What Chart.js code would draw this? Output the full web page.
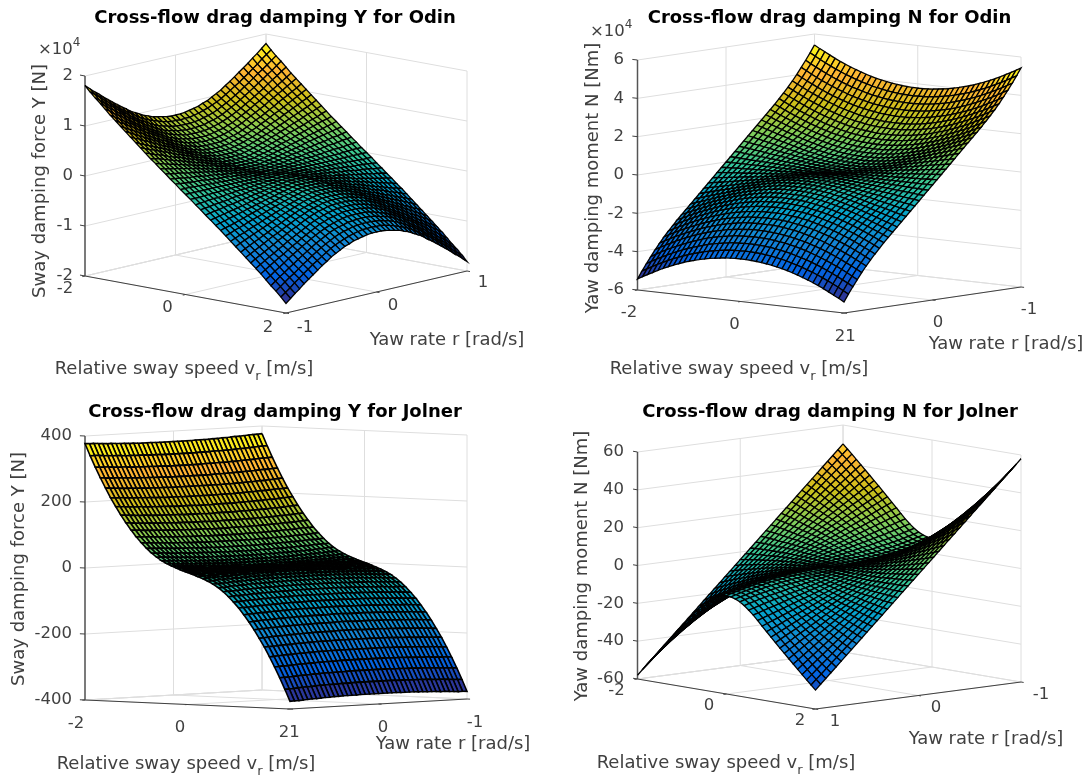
<!DOCTYPE html>
<html><head><meta charset="utf-8">
<style>html,body{margin:0;padding:0;background:#fff}canvas{position:absolute}</style>
<script src="https://cdn.jsdelivr.net/npm/chart.js@4/dist/chart.umd.js"></script>
</head><body>
<canvas id="c0" style="left:0;top:0"></canvas>
<canvas id="c1" style="left:545px;top:0"></canvas>
<canvas id="c2" style="left:0;top:390px"></canvas>
<canvas id="c3" style="left:545px;top:390px"></canvas>
<script>
const vGrid=[-2,-1.9,-1.8,-1.7,-1.6,-1.5,-1.4,-1.3,-1.2,-1.1,-1,-.9,-.8,-.7,-.6,-.5,-.4,-.3,-.2,-.1,0,.1,.2,.3,.4,.5,.6,.7,.8,.9,1,1.1,1.2,1.3,1.4,1.5,1.6,1.7,1.8,1.9,2];
const rGrid=[-1,-.95,-.9,-.85,-.8,-.75,-.7,-.65,-.6,-.55,-.5,-.45,-.4,-.35,-.3,-.25,-.2,-.15,-.1,-.05,0,.05,.1,.15,.2,.25,.3,.35,.4,.45,.5,.55,.6,.65,.7,.75,.8,.85,.9,.95,1];
// Magnitudes read for |r| = 0..1 (rows) and |v| = 0..2 (columns); the surfaces are antisymmetric about the centre.
const odinY=[ // x100 N
[0,0,1,2,3,5,7,10,13,16,20,24,29,34,39,45,51,58,65,72,80],
[0,0,1,2,4,5,8,10,13,17,20,25,29,34,40,45,52,58,65,73,80],
[0,1,2,3,4,6,8,11,14,17,21,25,30,35,40,46,52,59,66,73,81],
[0,1,3,4,6,8,10,12,15,19,23,27,31,36,42,48,54,60,67,75,83],
[0,2,3,5,7,9,12,15,18,21,25,29,34,39,44,50,56,63,70,77,85],
[0,2,4,6,9,11,14,17,20,24,27,32,36,41,47,52,59,65,72,80,87],
[0,3,5,8,10,13,16,19,23,27,31,35,39,44,50,56,62,68,75,83,91],
[0,3,6,9,12,15,19,22,26,30,34,38,43,48,54,59,66,72,79,87,94],
[0,3,7,10,14,17,21,25,29,33,38,42,47,52,58,64,70,77,84,91,99],
[0,4,8,11,15,19,23,28,32,37,41,46,51,57,63,69,75,82,89,96,104],
[0,4,8,13,17,21,26,30,35,40,45,50,56,62,68,74,80,87,94,102,109],
[0,5,9,14,19,23,28,33,38,44,49,55,60,66,73,79,86,93,100,108,116],
[0,5,10,15,20,26,31,36,42,47,53,59,65,71,78,85,91,99,106,114,122],
[0,5,11,16,22,28,33,39,45,51,57,63,70,76,83,90,97,105,113,120,129],
[0,6,12,18,24,30,36,42,48,55,61,68,74,81,89,96,103,111,119,127,136],
[0,6,13,19,25,32,38,45,51,58,65,72,79,87,94,102,109,118,126,134,143],
[0,7,13,20,27,34,41,48,55,62,69,77,84,92,100,107,116,124,133,141,150],
[0,7,14,21,29,36,43,51,58,66,73,81,89,97,105,113,122,131,139,148,158],
[0,8,15,23,30,38,46,54,61,69,77,86,94,102,111,119,128,137,146,156,165],
[0,8,16,24,32,40,48,56,65,73,81,90,99,107,116,125,135,144,153,163,173],
[0,8,17,25,34,42,51,59,68,77,86,95,104,113,122,131,141,151,160,170,181]];
const odinN=[ // x100 Nm
[0,0,0,0,0,0,0,0,0,0,0,0,0,0,0,0,0,0,0,0,0],
[1,1,2,4,5,6,7,8,10,11,12,13,14,16,17,18,19,20,22,23,24],
[4,4,5,7,10,12,14,17,19,22,24,26,29,31,34,36,38,41,43,46,48],
[9,9,10,12,15,18,22,25,29,32,36,40,43,47,50,54,58,61,65,68,72],
[15,16,17,19,22,25,29,34,38,43,48,53,58,62,67,72,77,82,86,91,96],
[24,24,25,27,30,34,38,43,48,54,60,66,72,78,84,90,96,102,108,114,120],
[34,34,36,38,41,44,49,54,60,66,72,79,86,94,101,108,115,122,130,137,144],
[46,47,48,50,53,57,61,67,72,79,86,93,101,109,118,126,134,143,151,160,168],
[60,61,62,64,67,71,76,81,87,94,101,109,117,126,135,144,154,163,173,182,192],
[77,77,78,80,83,87,92,97,103,110,117,125,134,143,153,163,173,184,194,205,216],
[95,95,96,98,101,105,110,115,121,128,136,144,153,162,172,183,194,205,216,228,240],
[114,115,116,118,121,125,130,135,141,148,156,164,173,183,193,204,215,227,239,252,264],
[136,137,138,140,143,147,151,157,163,170,178,186,195,205,216,227,238,251,263,276,290],
[160,160,161,164,167,170,175,180,187,194,202,210,219,229,240,251,263,276,289,302,316],
[185,186,187,189,192,196,201,206,212,219,227,236,245,255,266,277,289,302,315,329,343],
[213,213,214,216,219,223,228,233,240,247,255,263,273,283,294,305,318,330,344,358,372],
[242,242,244,246,249,253,257,263,269,276,284,293,302,312,323,335,347,361,374,388,403],
[273,274,275,277,280,284,288,294,300,307,315,324,334,344,355,367,379,392,406,421,436],
[306,307,308,310,313,317,322,327,333,341,349,357,367,377,388,400,413,426,440,454,470],
[341,342,343,345,348,352,357,362,368,376,384,392,402,412,423,435,448,461,475,490,505],
[378,378,380,382,385,389,393,399,405,412,420,429,439,449,460,472,485,499,513,527,543]];
const jolnerY=[ // N
[0,1,4,8,15,23,33,45,59,75,92,111,132,155,180,207,236,266,298,332,368],
[0,1,4,8,15,23,33,45,59,75,92,111,132,155,180,207,236,266,298,332,368],
[0,1,4,8,15,23,33,45,59,75,92,111,133,156,180,207,236,266,298,332,368],
[0,1,4,8,15,23,33,45,59,75,92,112,133,156,181,207,236,266,298,332,368],
[0,1,4,9,15,23,33,45,59,75,92,112,133,156,181,207,236,266,298,332,368],
[0,1,4,9,15,24,34,46,59,75,93,112,133,156,181,208,236,266,299,333,369],
[0,2,5,9,16,24,34,46,60,75,93,112,133,156,181,208,236,267,299,333,369],
[0,2,5,9,16,24,34,46,60,76,93,112,134,157,181,208,237,267,299,333,369],
[0,2,5,10,16,24,35,47,60,76,93,113,134,157,182,208,237,267,300,334,369],
[0,2,6,10,17,25,35,47,61,76,94,113,134,157,182,209,237,268,300,334,370],
[0,3,6,11,17,25,35,47,61,77,94,114,135,158,183,209,238,268,300,334,370],
[0,3,6,11,18,26,36,48,62,77,95,114,135,158,183,210,238,269,301,335,371],
[0,3,7,12,18,26,36,48,62,78,95,115,136,159,184,210,239,269,301,335,371],
[0,3,7,12,19,27,37,49,63,78,96,115,136,159,184,211,239,270,302,336,372],
[0,4,8,13,19,28,38,50,63,79,97,116,137,160,185,212,240,270,303,337,373],
[0,4,8,13,20,28,38,50,64,80,97,117,138,161,186,212,241,271,303,337,373],
[0,4,9,14,21,29,39,51,65,80,98,117,138,161,186,213,241,272,304,338,374],
[0,4,9,15,21,30,40,52,66,81,99,118,139,162,187,214,242,273,305,339,375],
[0,5,10,15,22,31,41,53,66,82,100,119,140,163,188,215,243,273,306,340,376],
[0,5,10,16,23,31,42,53,67,83,100,120,141,164,189,215,244,274,306,341,376],
[0,5,11,17,24,32,42,54,68,84,101,121,142,165,190,216,245,275,307,341,377]];
const jolnerN=[ // Nm
[0,0,0,0,0,0,0,0,0,0,0,0,0,0,0,0,0,0,0,0,0],
[0,.1,.3,.4,.5,.7,.8,.9,1.1,1.2,1.4,1.5,1.6,1.8,1.9,2,2.2,2.3,2.4,2.6,2.7],
[.1,.3,.5,.8,1.1,1.4,1.6,1.9,2.2,2.4,2.7,3,3.2,3.5,3.8,4.1,4.3,4.6,4.9,5.1,5.4],
[.2,.4,.8,1.2,1.6,2,2.4,2.8,3.2,3.6,4.1,4.5,4.9,5.3,5.7,6.1,6.5,6.9,7.3,7.7,8.1],
[.3,.6,1.1,1.6,2.2,2.7,3.2,3.8,4.3,4.9,5.4,5.9,6.5,7,7.6,8.1,8.6,9.2,9.7,10.3,10.8],
[.5,.8,1.4,2,2.7,3.4,4.1,4.7,5.4,6.1,6.8,7.4,8.1,8.8,9.5,10.1,10.8,11.5,12.2,12.8,13.5],
[.7,1,1.6,2.4,3.2,4,4.9,5.7,6.5,7.3,8.1,8.9,9.7,10.5,11.3,12.2,13,13.8,14.6,15.4,16.2],
[1,1.2,1.9,2.8,3.8,4.7,5.7,6.6,7.6,8.5,9.5,10.4,11.3,12.3,13.2,14.2,15.1,16.1,17,18,18.9],
[1.3,1.5,2.2,3.2,4.3,5.4,6.5,7.6,8.6,9.7,10.8,11.9,13,14,15.1,16.2,17.3,18.4,19.4,20.5,21.6],
[1.6,1.9,2.6,3.7,4.9,6.1,7.3,8.5,9.7,10.9,12.2,13.4,14.6,15.8,17,18.2,19.4,20.7,21.9,23.1,24.3],
[2,2.3,3,4.1,5.4,6.8,8.1,9.5,10.8,12.2,13.5,14.9,16.2,17.6,18.9,20.3,21.6,23,24.3,25.7,27],
[2.4,2.7,3.4,4.5,5.9,7.4,8.9,10.4,11.9,13.4,14.9,16.3,17.8,19.3,20.8,22.3,23.8,25.2,26.7,28.2,29.7],
[2.9,3.1,3.9,5,6.5,8.1,9.7,11.3,13,14.6,16.2,17.8,19.4,21.1,22.7,24.3,25.9,27.5,29.2,30.8,32.4],
[3.4,3.6,4.4,5.6,7.1,8.8,10.5,12.3,14,15.8,17.6,19.3,21.1,22.8,24.6,26.3,28.1,29.8,31.6,33.3,35.1],
[3.9,4.2,4.9,6.1,7.7,9.5,11.3,13.2,15.1,17,18.9,20.8,22.7,24.6,26.5,28.4,30.2,32.1,34,35.9,37.8],
[4.5,4.8,5.5,6.7,8.3,10.1,12.2,14.2,16.2,18.2,20.3,22.3,24.3,26.3,28.4,30.4,32.4,34.4,36.5,38.5,40.5],
[5.1,5.4,6.1,7.3,9,10.9,13,15.1,17.3,19.4,21.6,23.8,25.9,28.1,30.2,32.4,34.6,36.7,38.9,41,43.2],
[5.8,6,6.8,8,9.6,11.6,13.8,16.1,18.4,20.7,23,25.2,27.5,29.8,32.1,34.4,36.7,39,41.3,43.6,45.9],
[6.5,6.7,7.5,8.7,10.4,12.4,14.6,17,19.4,21.9,24.3,26.7,29.2,31.6,34,36.5,38.9,41.3,43.7,46.2,48.6],
[7.2,7.5,8.2,9.4,11.1,13.2,15.5,17.9,20.5,23.1,25.7,28.2,30.8,33.3,35.9,38.5,41,43.6,46.2,48.7,51.3],
[8,8.3,9,10.2,11.9,14,16.3,18.9,21.6,24.3,27,29.7,32.4,35.1,37.8,40.5,43.2,45.9,48.6,51.3,54]];
const jolnerNOffset=[0,0,0,.1,.2,.3,.4,.5,.6,.8,1,1.2,1.4,1.7,2,2.3,2.6,2.9,3.2,3.6,4]; // Nm by |v|

const vTicks=[-2,0,2], rTicks=[-1,0,1];
const odinYTicks=[-2,-1,0,1,2], odinNTicks=[-6,-4,-2,0,2,4,6];
const jolnerYTicks=[-400,-200,0,200,400], jolnerNTicks=[-60,-40,-20,0,20,40,60];

const parula=[[.2081,.1663,.5292],[.0117,.3875,.882],[.078,.52,.8286],[.0232,.6407,.7925],[.2161,.7843,.5923],[.5044,.7993,.348],[.8,.7482,.1],[.9932,.7,.2],[.9769,.9839,.0805]];
function colour(t){t=Math.max(0,Math.min(1,t))*(parula.length-1);const k=Math.min(parula.length-2,Math.floor(t)),f=t-k;
 const c=parula[k].map((a,n)=>Math.round(255*(a+(parula[k+1][n]-a)*f)));return `rgb(${c[0]},${c[1]},${c[2]})`;}

const panels=[
{title:'Cross-flow drag damping Y for Odin',titleXY:[275,18],org:[0,0],size:[545,390],table:odinY,unit:.01,signBy:'v',zTicks:odinYTicks,edge:1.3,
 L:[85,276],F:[286,313],R:[467,271],H:200,rFront:-1,rRight:1,zLab:73,
 exp:[38,50],yLab:['Sway damping force Y [N]',40,181],
 vLab:[[65,289],[167.5,308],[268,328]],rLab:[[305,328],[393,306],[483,283]],yaw:[447,340],rel:[184,369]},
{title:'Cross-flow drag damping N for Odin',titleXY:[829.5,18],org:[545,0],size:[545,390],table:odinN,unit:.01,signBy:'r',zTicks:odinNTicks,edge:1.3,
 L:[637.5,290],F:[844,313],R:[1021,287],H:230,rFront:1,rRight:-1,zLab:624,
 exp:[590,32],yLab:['Yaw damping moment N [Nm]',593,178],
 vLab:[[629,313],[734.5,325],[840,337]],rLab:[[850.5,337],[938,323],[1029,310]],yaw:[1006,344],rel:[739,369]},
{title:'Cross-flow drag damping Y for Jolner',titleXY:[275,412],org:[0,390],size:[545,391],table:jolnerY,unit:1,signBy:'v',zTicks:jolnerYTicks,edge:1.6,
 L:[85,700],F:[290,709],R:[467,699],H:264,rFront:1,rRight:-1,zLab:72,
 yLab:['Sway damping force Y [N]',19,569],
 vLab:[[76,724],[180,728],[284,733]],rLab:[[294.5,733],[383,728],[475,723]],yaw:[453,744],rel:[186,764]},
{title:'Cross-flow drag damping N for Jolner',titleXY:[830,412],org:[545,390],size:[545,391],table:jolnerN,unit:1,signBy:'r',offset:jolnerNOffset,zTicks:jolnerNTicks,edge:1.3,
 L:[637.5,679],F:[815.5,709],R:[1021,682],H:227,rFront:1,rRight:-1,zLab:624,
 yLab:['Yaw damping moment N [Nm]',582,566],
 vLab:[[616.5,691],[709,706],[800,721]],rLab:[[835,722],[936,708],[1041,695]],yaw:[986,739],rel:[726,763]}
];

function zAt(p,iv,ir){const i=Math.abs(iv-20),j=Math.abs(ir-20),m=p.table[j][i];
 let z=p.signBy==='v'?-Math.sign(vGrid[iv])*m:-Math.sign(rGrid[ir])*m;
 if(p.offset)z+=Math.sign(vGrid[iv])*p.offset[i];
 return z*p.unit;}
function proj(p,v,r,z){const zmin=p.zTicks[0],zmax=p.zTicks[p.zTicks.length-1];
 const fv=(v+2)/4,fr=(r-p.rFront)/(p.rRight-p.rFront),fz=(z-zmin)/(zmax-zmin);
 return {x:p.L[0]+fv*(p.F[0]-p.L[0])+fr*(p.R[0]-p.F[0]),y:p.L[1]+fv*(p.F[1]-p.L[1])+fr*(p.R[1]-p.F[1])-fz*p.H};}
function seg(data,color,w){return {data,borderColor:color,borderWidth:w,showLine:true,fill:false,pointRadius:0,tension:0,clip:false,parsing:false,normalized:false};}

function buildDatasets(p){
 const ds=[],zmin=p.zTicks[0],zmax=p.zTicks[p.zTicks.length-1],GR='#dedede',AX='#404040';
 const vB=-2,vF=2,rB=p.rRight,rF=p.rFront;
 for(const z of p.zTicks){ds.push(seg([proj(p,vB,rF,z),proj(p,vB,rB,z),proj(p,vF,rB,z)],GR,1));}
 for(const v of vTicks){ds.push(seg([proj(p,v,rF,zmin),proj(p,v,rB,zmin),proj(p,v,rB,zmax)],GR,1));}
 for(const r of rTicks){ds.push(seg([proj(p,vF,r,zmin),proj(p,vB,r,zmin),proj(p,vB,r,zmax)],GR,1));}
 ds.push(seg([proj(p,vB,rB,zmin),proj(p,vB,rF,zmin)],GR,1));
 ds.push(seg([proj(p,vB,rF,zmin),proj(p,vF,rF,zmin),proj(p,vF,rB,zmin)],AX,1));
 ds.push(seg([proj(p,vB,rF,zmin),proj(p,vB,rF,zmax)],'#555',1.5));
 for(const z of p.zTicks){ds.push(seg([proj(p,vB-.1,rF,z),proj(p,vB,rF,z)],AX,1));}
 const dr=.06*(rF-rB)/2;
 for(const v of vTicks){ds.push(seg([proj(p,v,rF+dr/2,zmin),proj(p,v,rF,zmin)],AX,1));}
 for(const r of rTicks){ds.push(seg([proj(p,vF+.06,r,zmin),proj(p,vF,r,zmin)],AX,1));}
 const n=vGrid.length-1;
 for(let iv=0;iv<n;iv++){
  for(let k=0;k<n;k++){
   const ir=p.rRight>p.rFront?n-1-k:k;
   const c=[[iv,ir],[iv+1,ir],[iv+1,ir+1],[iv,ir+1]];
   const pts=c.map(([a,b])=>proj(p,vGrid[a],rGrid[b],zAt(p,a,b)));
   pts.push({x:pts[0].x,y:pts[0].y});
   const m=c.reduce((s,[a,b])=>s+zAt(p,a,b),0)/4;
   const lim=p.limit;
   ds.push({data:pts,showLine:true,fill:'shape',backgroundColor:colour((m+lim)/(2*lim)),borderColor:'#000',borderWidth:p.edge,pointRadius:0,tension:0,clip:false,parsing:false,normalized:false});
  }
 }
 return ds.reverse();
}

const labelPlugin={id:'labels3d',afterDraw(chart){
 const p=chart.options.plugins.labels3d.panel,ctx=chart.ctx,sx=chart.scales.x,sy=chart.scales.y;
 const X=x=>sx.getPixelForValue(x),Y=y=>sy.getPixelForValue(y);
 const FONT='"DejaVu Sans"',TXT='#404040';
 ctx.save();ctx.textBaseline='middle';ctx.textAlign='center';
 ctx.fillStyle='#000';ctx.font='bold 18px '+FONT;ctx.fillText(p.title,X(p.titleXY[0]),Y(p.titleXY[1]));
 ctx.fillStyle=TXT;ctx.font='16.5px '+FONT;
 ctx.textAlign='right';
 for(const z of p.zTicks){const q=proj(p,-2,p.rFront,z);ctx.fillText(String(z),X(p.zLab),Y(q.y));}
 ctx.textAlign='center';
 vTicks.forEach((v,i)=>ctx.fillText(String(v),X(p.vLab[i][0]),Y(p.vLab[i][1])));
 rTicks.forEach((r,i)=>{const val=p.rFront===-1?r:-r;ctx.fillText(String(val),X(p.rLab[i][0]),Y(p.rLab[i][1]));});
 ctx.font='18px '+FONT;
 ctx.fillText('Yaw rate r [rad/s]',X(p.yaw[0]),Y(p.yaw[1]));
 const a='Relative sway speed v',b=' [m/s]';ctx.textAlign='left';
 const wa=ctx.measureText(a).width,wb=ctx.measureText(b).width;ctx.font='13px '+FONT;const ws=ctx.measureText('r').width;
 const x0=X(p.rel[0])-(wa+wb+ws)/2,y0=Y(p.rel[1]);
 ctx.font='18px '+FONT;ctx.fillText(a,x0,y0);ctx.fillText(b,x0+wa+ws,y0);
 ctx.font='13px '+FONT;ctx.fillText('r',x0+wa,y0+8);
 if(p.exp){ctx.font='16.5px '+FONT;ctx.textAlign='left';ctx.fillText('\u00d710',X(p.exp[0]),Y(p.exp[1]));const w=ctx.measureText('\u00d710').width;ctx.font='12px '+FONT;ctx.fillText('4',X(p.exp[0])+w,Y(p.exp[1])-7);}
 ctx.font='18px '+FONT;ctx.textAlign='center';
 ctx.translate(X(p.yLab[1]),Y(p.yLab[2]));ctx.rotate(-Math.PI/2);ctx.fillText(p.yLab[0],0,0);
 ctx.restore();
}};

panels.forEach((p,idx)=>{
 p.limit=Math.max(...p.table[20])*p.unit+(p.offset?p.offset[20]*p.unit:0);
 const cv=document.getElementById('c'+idx);cv.width=p.size[0];cv.height=p.size[1];
 new Chart(cv,{type:'scatter',data:{datasets:buildDatasets(p)},plugins:[labelPlugin],options:{
  responsive:false,animation:false,events:[],layout:{padding:0},
  scales:{x:{type:'linear',display:false,min:p.org[0],max:p.org[0]+p.size[0]},y:{type:'linear',display:false,reverse:true,min:p.org[1],max:p.org[1]+p.size[1]}},
  plugins:{legend:{display:false},tooltip:{enabled:false},title:{display:false},labels3d:{panel:p}}
 }});
});
</script></body></html>
